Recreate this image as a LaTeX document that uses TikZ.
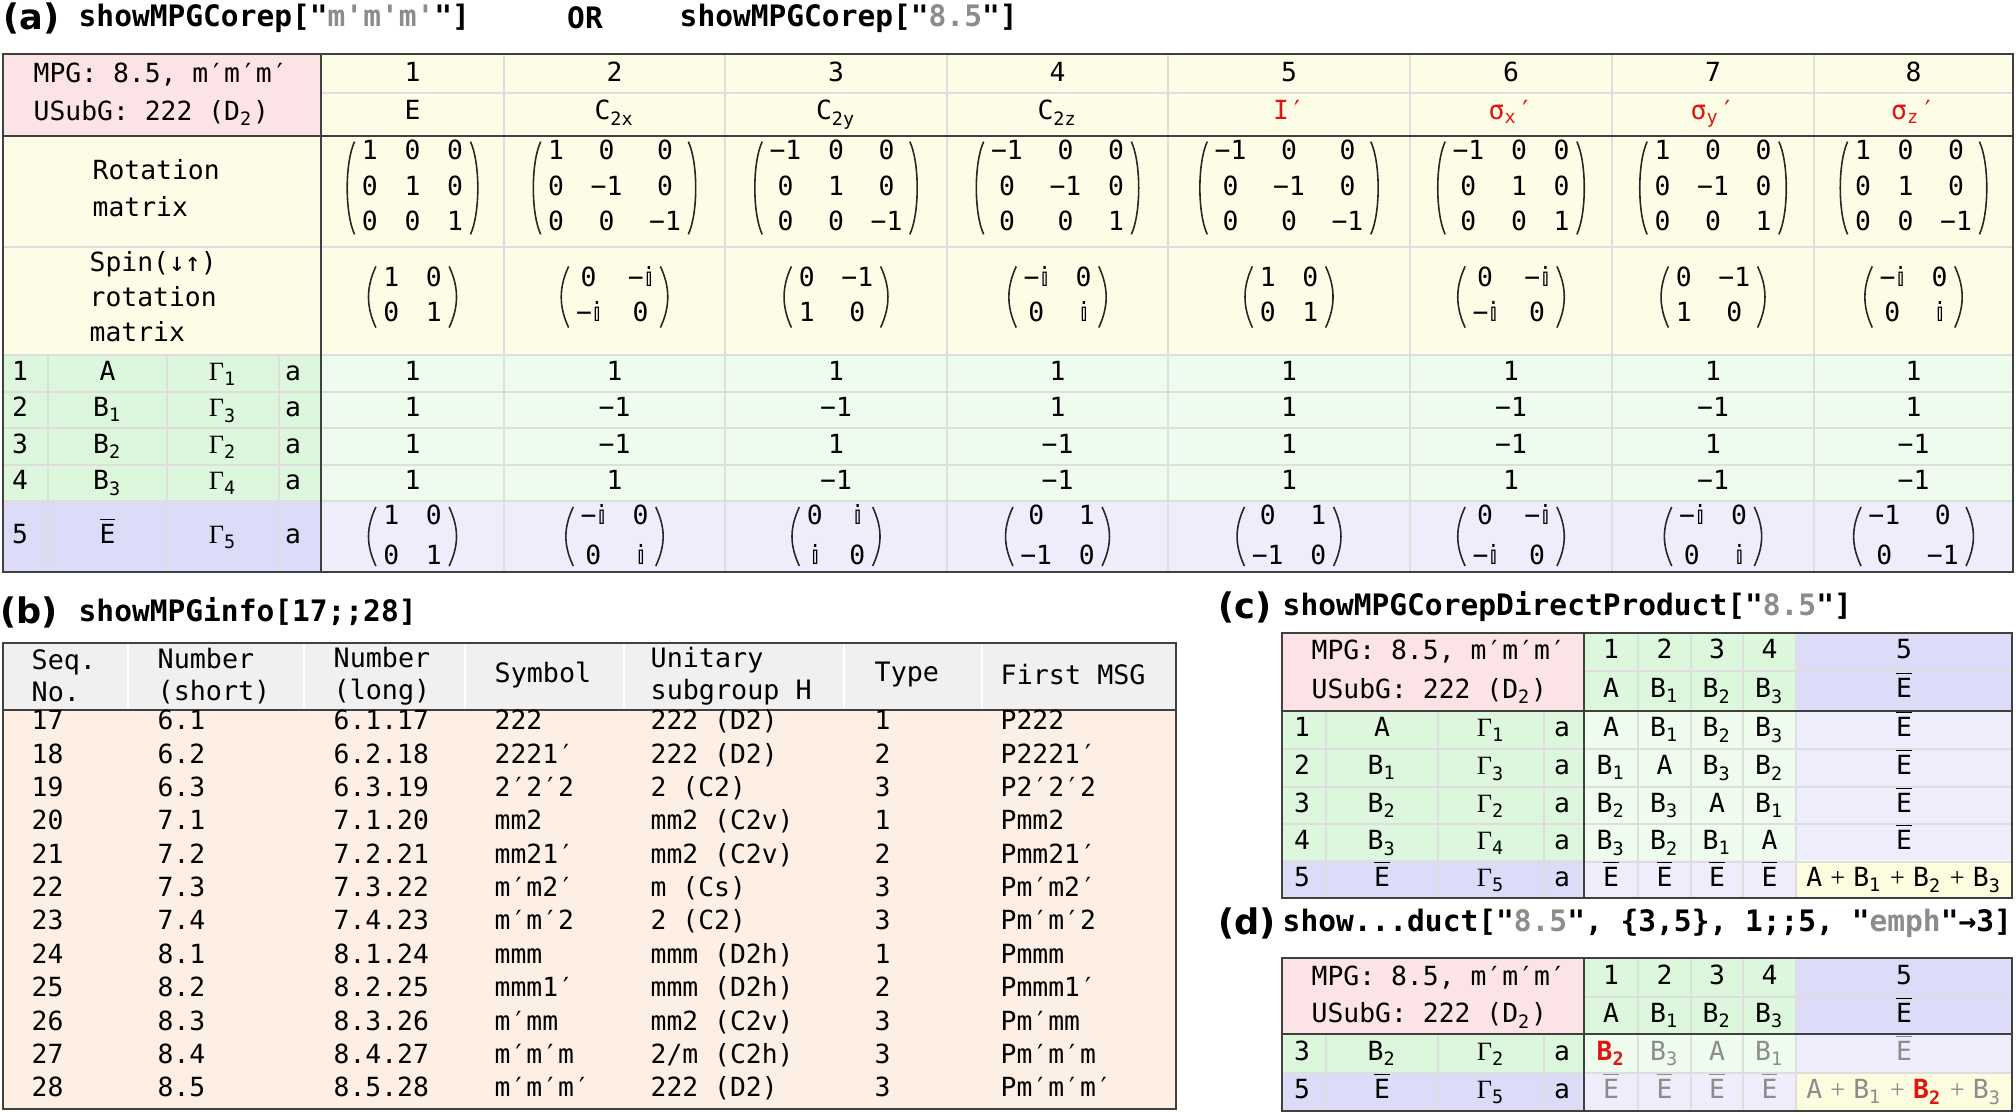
\documentclass[tikz,border=0pt]{standalone}
\usepackage{fontspec}
\setmonofont{DejaVu Sans Mono}
\newfontfamily\tagfont{DejaVu Sans}
\newfontfamily\gamfont{Liberation Serif}
\newfontfamily\dsfont{DejaVu Sans}
\usetikzlibrary{calc}

\definecolor{pinkhd}{HTML}{FCE3E5}
\definecolor{yelcell}{HTML}{FDFDE7}
\definecolor{grnhd}{HTML}{DCF7DC}
\definecolor{grncell}{HTML}{EEFCEE}
\definecolor{bluhd}{HTML}{DCDCF9}
\definecolor{blucell}{HTML}{EDEDFC}
\definecolor{yelsum}{HTML}{FCFCDF}
\definecolor{grayhd}{HTML}{F0F0F0}
\definecolor{peach}{HTML}{FDEFE3}
\definecolor{gridc}{HTML}{DEDEDE}
\definecolor{framec}{HTML}{404040}
\definecolor{txgray}{HTML}{8C8C8C}
\definecolor{emred}{HTML}{E0150F}

\setlength\tabcolsep{3.8pt}
\newcommand\tabfont{\ttfamily\fontsize{7.5}{10}\selectfont}
\newcommand\cmdfont{\ttfamily\bfseries\fontsize{8.4}{10}\selectfont}
\newcommand\sub[1]{\textsubscript{#1}}
\newcommand\Gam[1]{{\gamfont Γ}\sub{#1}}
\newcommand\Eb{\ensuremath{\overline{\hbox{E}}}}
\newcommand\dsi{{\dsfont 𝕚}}
\newcommand\gq[1]{"{\color{txgray}#1}"}
\newcommand\pl{\hspace{2.3pt}{\gamfont\mdseries+}\hspace{2.3pt}}
\newcommand\mparen[2][2pt]{%
 \draw[parenline] ($(#2.north west)+(2.6pt,-#1)$) .. controls ($(#2.north west)+(-0.2pt,-#1-6pt)$) and ($(#2.south west)+(-0.2pt,#1+6pt)$) .. ($(#2.south west)+(2.6pt,#1)$);
 \draw[parenline] ($(#2.north east)+(-2.6pt,-#1)$) .. controls ($(#2.north east)+(0.2pt,-#1-6pt)$) and ($(#2.south east)+(0.2pt,#1+6pt)$) .. ($(#2.south east)+(-2.6pt,#1)$);}

\begin{document}
\begin{tikzpicture}[x=0.01cm,y=-0.01cm,
 cell/.style={inner sep=0pt,font=\tabfont,text height=5.5pt,text depth=1.6pt},
 hdtext/.style={inner sep=0pt,font=\tabfont,anchor=west},
 bhead/.style={inner sep=0pt,anchor=west,align=left,font=\ttfamily\fontsize{7.6}{9.2}\selectfont},
 mat/.style={inner xsep=4.5pt,inner ysep=0pt,font=\tabfont},
 rowmat/.style={mat,font=\ttfamily\fontsize{7.5}{11.2}\selectfont},
 cmdtitle/.style={inner sep=0pt,anchor=west,font=\cmdfont},
 tagnode/.style={inner sep=0pt,anchor=west,font=\tagfont\bfseries\fontsize{10}{12}\selectfont},
 tframe/.style={draw=framec,line width=0.7pt},
 faint/.style={draw=gridc,line width=0.4pt},
 parenline/.style={line width=0.45pt,draw=black!85}]
\useasboundingbox (0,0) rectangle (2016,1113);

\node[tagnode] (a-tag) at (3,18) {(a)};
\node[cmdtitle] (a-cmd) at (78,18) {showMPGCorep[\gq{m'm'm'}]};
\node[cmdtitle,anchor=center] (a-or) at (585,18) {OR};
\node[cmdtitle] (a-cmd2) at (679,18) {showMPGCorep[\gq{8.5}]};

\fill[pinkhd] (3,54) rectangle (321,136);
\fill[yelcell] (321,54) rectangle (2013,136);
\fill[yelcell] (3,136) rectangle (2013,355);
\fill[grnhd] (3,355) rectangle (321,501);
\fill[grncell] (321,355) rectangle (2013,501);
\fill[bluhd] (3,501) rectangle (321,572);
\fill[blucell] (321,501) rectangle (2013,572);
\draw[faint] (321,93) -- (2013,93);
\foreach \y in {247,355,392,428,465,501} \draw[faint] (3,\y) -- (2013,\y);
\foreach \x in {504,725,947,1168,1410,1612,1814} \draw[faint] (\x,54) -- (\x,572);
\foreach \x in {48,167,279} \draw[faint] (\x,355) -- (\x,572);
\draw[tframe] (3,136) -- (2013,136);
\draw[tframe] (321,54) -- (321,572);
\draw[tframe] (3,54) rectangle (2013,572);

\node[hdtext] (a-mpg) at (33,75) {MPG: 8.5, m′m′m′};
\node[hdtext] (a-usub) at (33,113) {USubG: 222 (D\sub{2})};
\foreach \x/\nm [count=\i] in {412.5/E, 614.5/C\sub{2x}, 836/C\sub{2y}, 1057.5/C\sub{2z}, 1289/{\color{emred}I′}, 1511/{\color{emred}σ\sub{x}′}, 1713/{\color{emred}σ\sub{y}′}, 1913.5/{\color{emred}σ\sub{z}′}}
{
 \node[cell] (a-num-\i) at (\x,75) {\i};
 \node[cell] (a-op-\i) at (\x,113) {\nm};
}
\node[hdtext,align=left,font=\ttfamily\fontsize{7.5}{10.5}\selectfont] (a-rot) at (92,188) {Rotation\\matrix};
\node[hdtext,align=left] (a-spin) at (89,297) {Spin(↓↑)\\rotation\\matrix};
\coordinate (a-rotrow) at (0,188);
\coordinate (a-spinrow) at (0,297);
\foreach \mx [count=\i] in {{1&0&0\\0&1&0\\0&0&1}, {1&0&0\\0&−1&0\\0&0&−1}, {−1&0&0\\0&1&0\\0&0&−1}, {−1&0&0\\0&−1&0\\0&0&1}, {−1&0&0\\0&−1&0\\0&0&−1}, {−1&0&0\\0&1&0\\0&0&1}, {1&0&0\\0&−1&0\\0&0&1}, {1&0&0\\0&1&0\\0&0&−1}}
{
 \node[mat] (a-rm-\i) at (a-num-\i |- a-rotrow) {\begin{tabular}{@{}ccc@{}}\mx\end{tabular}};
 \mparen{a-rm-\i}
}
\foreach \mx [count=\i] in {{1&0\\0&1}, {0&−\dsi\\−\dsi&0}, {0&−1\\1&0}, {−\dsi&0\\0&\dsi}, {1&0\\0&1}, {0&−\dsi\\−\dsi&0}, {0&−1\\1&0}, {−\dsi&0\\0&\dsi}}
{
 \node[mat] (a-sm-\i) at (a-num-\i |- a-spinrow) {\begin{tabular}{@{}cc@{}}\mx\end{tabular}};
 \mparen[1.5pt]{a-sm-\i}
}

\foreach \r/\nm/\g/\y/\vals in {1/A/1/373.5/{1,1,1,1,1,1,1,1}, 2/B\sub{1}/3/410/{1,−1,−1,1,1,−1,−1,1}, 3/B\sub{2}/2/446.5/{1,−1,1,−1,1,−1,1,−1}, 4/B\sub{3}/4/483/{1,1,−1,−1,1,1,−1,−1}}
{
 \node[cell] (a-idx-\r) at (20,\y) {\r};
 \node[cell] (a-rep-\r) at (107.5,\y) {\nm};
 \node[cell] (a-gam-\r) at (223,\y) {\Gam{\g}};
 \node[cell] (a-typ-\r) at (293,\y) {a};
 \foreach \v [count=\i] in \vals
  \node[cell] (a-ch-\r-\i) at (a-num-\i |- a-idx-\r) {\v};
}
\node[cell] (a-idx-5) at (20,536.5) {5};
\node[cell] (a-rep-5) at (107.5,536.5) {\Eb};
\node[cell] (a-gam-5) at (223,536.5) {\Gam{5}};
\node[cell] (a-typ-5) at (293,536.5) {a};
\foreach \mx [count=\i] in {{1&0\\0&1}, {−\dsi&0\\0&\dsi}, {0&\dsi\\\dsi&0}, {0&1\\−1&0}, {0&1\\−1&0}, {0&−\dsi\\−\dsi&0}, {−\dsi&0\\0&\dsi}, {−1&0\\0&−1}}
{
 \node[rowmat] (a-em-\i) at (a-num-\i |- a-idx-5) {\begin{tabular}{@{}cc@{}}\mx\end{tabular}};
 \mparen[3pt]{a-em-\i}
}

\node[tagnode] (b-tag) at (0,612) {(b)};
\node[cmdtitle] (b-cmd) at (78,612) {showMPGinfo[17;;28]};
\fill[grayhd] (3,643) rectangle (1176,710);
\fill[peach] (3,710) rectangle (1176,1109);
\foreach \x in {128,304,465,624,844,982} \draw[draw=white,line width=0.8pt] (\x,643) -- (\x,710);
\draw[tframe] (3,710) -- (1176,710);
\draw[tframe] (3,643) rectangle (1176,1109);
\node[bhead] (b-seq) at (31,676) {Seq.\\No.};
\node[bhead] (b-short) at (157,676) {Number\\(short)};
\node[bhead] (b-long) at (333,676) {Number\\(long)};
\node[bhead] (b-sym) at (494,675) {Symbol};
\node[bhead] (b-uni) at (650,676) {Unitary\\subgroup H};
\node[bhead] (b-type) at (874,675) {Type};
\node[bhead] (b-first) at (1000,675) {First MSG};
\foreach \sq/\ns/\nl/\sy/\uh/\ty/\fm [count=\i from 0] in {
 17/6.1/6.1.17/222/{222 (D2)}/1/P222,
 18/6.2/6.2.18/2221′/{222 (D2)}/2/P2221′,
 19/6.3/6.3.19/2′2′2/{2 (C2)}/3/P2′2′2,
 20/7.1/7.1.20/mm2/{mm2 (C2v)}/1/Pmm2,
 21/7.2/7.2.21/mm21′/{mm2 (C2v)}/2/Pmm21′,
 22/7.3/7.3.22/m′m2′/{m (Cs)}/3/Pm′m2′,
 23/7.4/7.4.23/m′m′2/{2 (C2)}/3/Pm′m′2,
 24/8.1/8.1.24/mmm/{mmm (D2h)}/1/Pmmm,
 25/8.2/8.2.25/mmm1′/{mmm (D2h)}/2/Pmmm1′,
 26/8.3/8.3.26/m′mm/{mm2 (C2v)}/3/Pm′mm,
 27/8.4/8.4.27/m′m′m/{2/m (C2h)}/3/Pm′m′m,
 28/8.5/8.5.28/m′m′m′/{222 (D2)}/3/Pm′m′m′}
{
 \pgfmathsetmacro\yb{723+33.35*\i}
 \node[cell,anchor=west] (b-\sq-seq) at (31,\yb) {\sq};
 \node[cell,anchor=west] (b-\sq-ns) at (157,\yb) {\ns};
 \node[cell,anchor=west] (b-\sq-nl) at (333,\yb) {\nl};
 \node[cell,anchor=west] (b-\sq-sym) at (494,\yb) {\sy};
 \node[cell,anchor=west] (b-\sq-uni) at (650,\yb) {\uh};
 \node[cell,anchor=west] (b-\sq-type) at (874,\yb) {\ty};
 \node[cell,anchor=west] (b-\sq-first) at (1000,\yb) {\fm};
}

\node[tagnode] (c-tag) at (1218,607) {(c)};
\node[cmdtitle] (c-cmd) at (1282,607) {showMPGCorepDirectProduct[\gq{8.5}]};
\node[tagnode] (d-tag) at (1218,923) {(d)};
\node[cmdtitle] (d-cmd) at (1282,923) {show...duct[\gq{8.5}, \{3,5\}, 1;;5, \gq{emph}→3]};

\foreach \t/\yt/\ym/\yh/\yb in {c/633/671/711/898, d/958/997/1034/1111}
{
 \fill[pinkhd] (1282,\yt) rectangle (1584,\yh);
 \fill[grnhd] (1584,\yt) rectangle (1796,\yh);
 \fill[bluhd] (1796,\yt) rectangle (2012,\yh);
 \fill[grnhd] (1282,\yh) rectangle (1584,\yb-38);
 \fill[grncell] (1584,\yh) rectangle (1796,\yb-38);
 \fill[blucell] (1796,\yh) rectangle (2012,\yb-38);
 \fill[bluhd] (1282,\yb-38) rectangle (1584,\yb);
 \fill[blucell] (1584,\yb-38) rectangle (1796,\yb);
 \fill[yelsum] (1796,\yb-38) rectangle (2012,\yb);
 \draw[faint] (1584,\ym) -- (2012,\ym);
 \foreach \x in {1638,1691,1743,1796} \draw[faint] (\x,\yt) -- (\x,\yb);
 \foreach \x in {1326,1438,1544} \draw[faint] (\x,\yh) -- (\x,\yb);
 \node[hdtext] (\t-mpg) at (1311,{(\yt+\ym)/2}) {MPG: 8.5, m′m′m′};
 \node[hdtext] (\t-usub) at (1311,{(\ym+\yh)/2}) {USubG: 222 (D\sub{2})};
 \foreach \x/\nm [count=\i] in {1611/A, 1664.5/B\sub{1}, 1717/B\sub{2}, 1769.5/B\sub{3}, 1904/\Eb}
 {
  \node[cell] (\t-num-\i) at (\x,{(\yt+\ym)/2}) {\i};
  \node[cell] (\t-rep-\i) at (\x,{(\ym+\yh)/2}) {\nm};
 }
}
\foreach \y in {749,787,824,862} \draw[faint] (1282,\y) -- (2012,\y);
\draw[faint] (1282,1073) -- (2012,1073);
\foreach \t/\yt/\yh/\yb in {c/633/711/898, d/958/1034/1111}
{
 \draw[tframe] (1282,\yh) -- (2012,\yh);
 \draw[tframe] (1584,\yt) -- (1584,\yb);
 \draw[tframe] (1282,\yt) rectangle (2012,\yb);
}

\foreach \r/\nm/\g/\y/\prods in {
 1/A/1/730/{A,B\sub{1},B\sub{2},B\sub{3},\Eb},
 2/B\sub{1}/3/768/{B\sub{1},A,B\sub{3},B\sub{2},\Eb},
 3/B\sub{2}/2/805.5/{B\sub{2},B\sub{3},A,B\sub{1},\Eb},
 4/B\sub{3}/4/843/{B\sub{3},B\sub{2},B\sub{1},A,\Eb},
 5/\Eb/5/880/{\Eb,\Eb,\Eb,\Eb,A\pl B\sub{1}\pl B\sub{2}\pl B\sub{3}}}
{
 \node[cell] (c-idx-\r) at (1302,\y) {\r};
 \node[cell] (c-row-\r) at (1382,\y) {\nm};
 \node[cell] (c-gam-\r) at (1491,\y) {\Gam{\g}};
 \node[cell] (c-typ-\r) at (1562,\y) {a};
 \foreach \p [count=\i] in \prods
  \node[cell] (c-prod-\r-\i) at (c-num-\i |- c-idx-\r) {\p};
}

\foreach \r/\nm/\g/\y/\prods in {
 3/B\sub{2}/2/1053.5/{{\bfseries\color{emred}B\sub{2}},{\color{txgray}B\sub{3}},{\color{txgray}A},{\color{txgray}B\sub{1}},{\color{txgray}\Eb}},
 5/\Eb/5/1092/{{\color{txgray}\Eb},{\color{txgray}\Eb},{\color{txgray}\Eb},{\color{txgray}\Eb},{\color{txgray}A\pl B\sub{1}\pl{\bfseries\color{emred}B\sub{2}}\pl B\sub{3}}}}
{
 \node[cell] (d-idx-\r) at (1302,\y) {\r};
 \node[cell] (d-row-\r) at (1382,\y) {\nm};
 \node[cell] (d-gam-\r) at (1491,\y) {\Gam{\g}};
 \node[cell] (d-typ-\r) at (1562,\y) {a};
 \foreach \p [count=\i] in \prods
  \node[cell] (d-prod-\r-\i) at (d-num-\i |- d-idx-\r) {\p};
}
\end{tikzpicture}
\end{document}
